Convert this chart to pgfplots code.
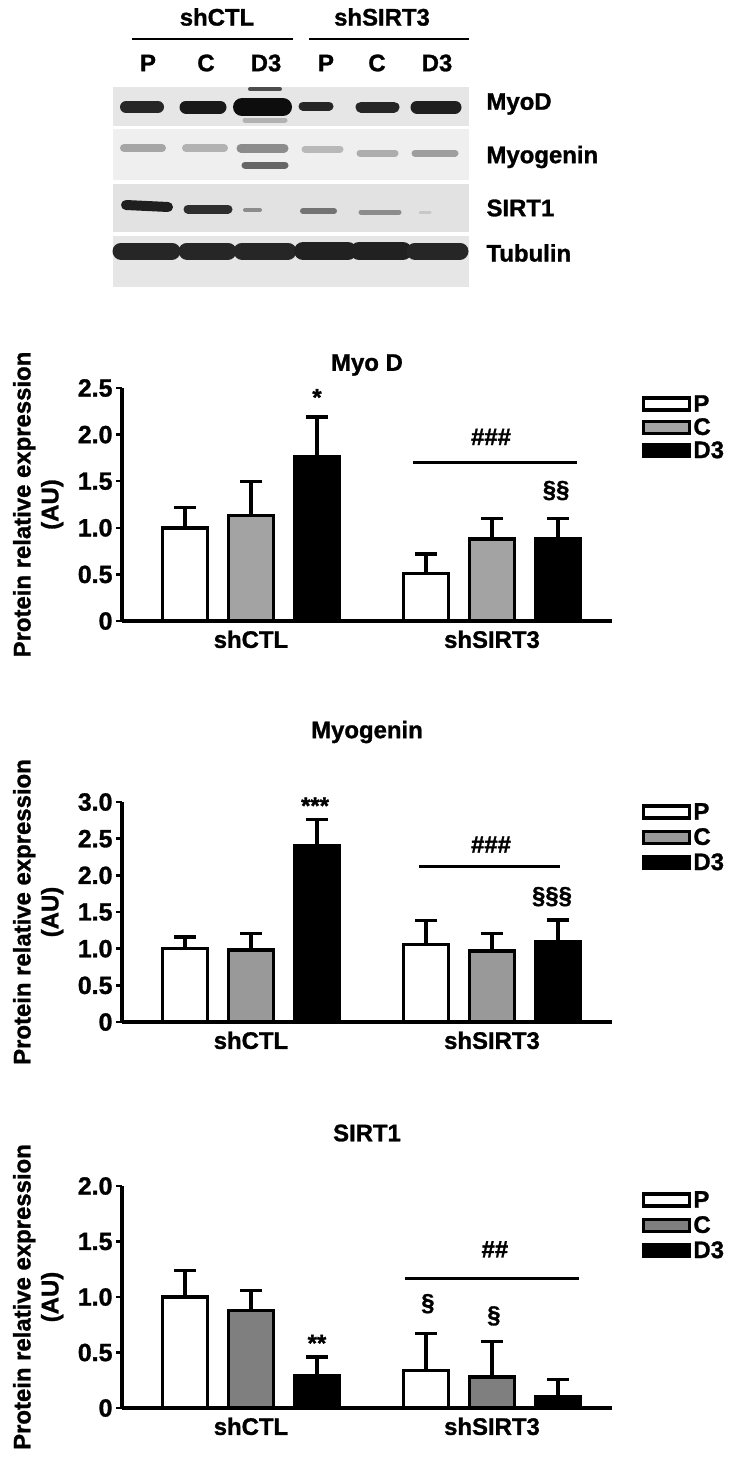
\documentclass[border=0pt]{standalone}
\usepackage{fontspec}
\setmainfont{Liberation Sans}[BoldFeatures={FakeBold=1.2}]
\usepackage{pgfplots}
\pgfplotsset{compat=1.18}
\newcommand\F{\fontsize{24}{28}\selectfont\bfseries}
\newcommand\T{\fontsize{25}{28}\selectfont\bfseries}
\definecolor{cA}{HTML}{A3A3A3}
\definecolor{cB}{HTML}{999999}
\definecolor{cC}{HTML}{7F7F7F}
\definecolor{bgA}{HTML}{E6E6E6}
\definecolor{bgB}{HTML}{EFEFEF}
\definecolor{bgC}{HTML}{E2E2E2}
\definecolor{bgD}{HTML}{E6E6E6}
\pgfplotsset{
  chart/.style={
    scale only axis, width=490bp, anchor=south west,
    axis x line=bottom, axis y line=left,
    axis line style={-, line width=3.2bp},
    xmin=0.465, xmax=2.498, ymin=0,
    xtick={1,2}, xticklabels={shCTL,shSIRT3},
    x tick style={draw=none},
    y tick style={line width=2.5bp, black},
    tick align=outside, major tick length=6bp,
    tick label style={font=\T},
    xticklabel style={font=\F},
    ylabel={Protein relative expression\\(AU)},
    ylabel style={font=\F, align=center, at={(axis description cs:-0.171,0.5)}, anchor=center},
    title style={font=\F, at={(axis description cs:0.5,1)}, anchor=center},
    clip=false,
    legend style={draw=none, fill=none, inner sep=0pt, font=\F, anchor=north west,
      nodes={inner sep=1bp}, column sep=1bp},
    legend cell align=left,
  },
  bar/.style={ybar, bar width=0.187, bar shift=0, draw=black, line width=3.5bp,
    error bars/y dir=plus, error bars/y explicit,
    error bars/error bar style={line width=3.2bp, black},
    error bars/error mark options={rotate=90, line width=3.2bp, mark size=11bp, black},
    legend image code/.code={\draw[##1, line width=3.5bp] (0bp,-6bp) rectangle (46bp,6bp);}},
}
\begin{document}
\begin{tikzpicture}
\useasboundingbox (0,0) rectangle (736bp,-1463bp);
% ---------------- western blot ----------------
\begin{axis}[at={(0bp,0bp)}, anchor=north west, scale only axis, width=736bp, height=300bp,
  xmin=0, xmax=736, ymin=0, ymax=300, y dir=reverse, hide axis, clip=false]
\fill[bgA] (axis cs:113,87) rectangle (axis cs:469,126);
\fill[bgB] (axis cs:113,129) rectangle (axis cs:469,180);
\fill[bgC] (axis cs:113,184) rectangle (axis cs:469,232);
\fill[bgD] (axis cs:113,236) rectangle (axis cs:469,287);
% MyoD bands
\addplot[no markers, line cap=round, line width=12bp, draw=black!85] coordinates {(126,107) (158,107)};
\addplot[no markers, line cap=round, line width=13bp, draw=black!90] coordinates {(186,107) (220,107)};
\addplot[no markers, line cap=round, line width=18bp, draw=black!95] coordinates {(242,107) (283,107)};
\addplot[no markers, line cap=round, line width=4bp, draw=black!70] coordinates {(250,89) (280,89)};
\addplot[no markers, line cap=round, line width=5bp, draw=black!30] coordinates {(245,120) (285,120)};
\addplot[no markers, line cap=round, line width=9bp, draw=black!85] coordinates {(303,106) (329,106)};
\addplot[no markers, line cap=round, line width=11bp, draw=black!85] coordinates {(361,107) (394,107)};
\addplot[no markers, line cap=round, line width=13bp, draw=black!88] coordinates {(417,107) (455,107)};
% Myogenin bands
\addplot[no markers, line cap=round, line width=8bp, draw=black!35] coordinates {(124,148) (162,148)};
\addplot[no markers, line cap=round, line width=8bp, draw=black!30] coordinates {(186,148) (224,148)};
\addplot[no markers, line cap=round, line width=9bp, draw=black!45] coordinates {(241,148) (284,148)};
\addplot[no markers, line cap=round, line width=7bp, draw=black!60] coordinates {(245,165) (285,165)};
\addplot[no markers, line cap=round, line width=7bp, draw=black!28] coordinates {(305,149) (340,149)};
\addplot[no markers, line cap=round, line width=7bp, draw=black!32] coordinates {(360,153) (395,153)};
\addplot[no markers, line cap=round, line width=7bp, draw=black!38] coordinates {(415,153) (455,153)};
% SIRT1 bands
\addplot[no markers, line cap=round, line width=10bp, draw=black!88] coordinates {(126,205) (168,207)};
\addplot[no markers, line cap=round, line width=9bp, draw=black!82] coordinates {(188,209) (228,209)};
\addplot[no markers, line cap=round, line width=4bp, draw=black!45] coordinates {(245,210) (260,210)};
\addplot[no markers, line cap=round, line width=6bp, draw=black!55] coordinates {(303,211) (334,211)};
\addplot[no markers, line cap=round, line width=5bp, draw=black!45] coordinates {(361,212) (399,212)};
\addplot[no markers, line cap=round, line width=3bp, draw=black!22] coordinates {(420,212) (430,212)};
% Tubulin bands
\addplot[no markers, line cap=round, line width=17bp, draw=black!85] coordinates {(121,251) (172,251)};
\addplot[no markers, line cap=round, line width=17bp, draw=black!85] coordinates {(187,251) (228,251)};
\addplot[no markers, line cap=round, line width=17bp, draw=black!85] coordinates {(242,251) (288,251)};
\addplot[no markers, line cap=round, line width=18bp, draw=black!87] coordinates {(303,251) (348,251)};
\addplot[no markers, line cap=round, line width=18bp, draw=black!87] coordinates {(359,251) (403,251)};
\addplot[no markers, line cap=round, line width=17bp, draw=black!85] coordinates {(415,251) (460,251)};
% labels
\node[font=\F] at (axis cs:217,17) {shCTL};
\node[font=\F] at (axis cs:382,17) {shSIRT3};
\draw[line width=1.5bp] (axis cs:132,39) -- (axis cs:293,39);
\draw[line width=1.5bp] (axis cs:309,39) -- (axis cs:469,39);
\node[font=\F] at (axis cs:148,63) {P};
\node[font=\F] at (axis cs:206,63) {C};
\node[font=\F] at (axis cs:266,63) {D3};
\node[font=\F] at (axis cs:326,63) {P};
\node[font=\F] at (axis cs:377,63) {C};
\node[font=\F] at (axis cs:437,63) {D3};
\node[font=\F, anchor=west] at (axis cs:483,104) {MyoD};
\node[font=\F, anchor=west] at (axis cs:483,157) {Myogenin};
\node[font=\F, anchor=west] at (axis cs:483,208) {SIRT1};
\node[font=\F, anchor=west] at (axis cs:483,253) {Tubulin};
\end{axis}
% ---------------- Myo D ----------------
\begin{axis}[chart, at={(122bp,-621bp)}, height=233bp, ymax=2.5,
  ytick={0,0.5,1,1.5,2,2.5}, yticklabels={0,0.5,1.0,1.5,2.0,2.5},
  title={Myo D}, title style={yshift=17bp},
  legend style={at={(axis description cs:1.0607,0.974)}, row sep=3bp}]
\addplot[bar, fill=white] coordinates {(0.726,1.00) +- (0,0.22) (1.726,0.51) +- (0,0.21)};
\addlegendentry{P}
\addplot[bar, fill=cA] coordinates {(1,1.13) +- (0,0.37) (2,0.88) +- (0,0.22)};
\addlegendentry{C}
\addplot[bar, fill=black] coordinates {(1.274,1.76) +- (0,0.43) (2.274,0.88) +- (0,0.22)};
\addlegendentry{D3}
\node[font=\F] at (axis cs:1.274,2.40) {*};
\node[font=\F] at (axis cs:1.996,1.975) {\#\#\#};
\draw[line width=3.2bp] (axis cs:1.672,1.70) -- (axis cs:2.353,1.70);
\node[font=\F] at (axis cs:2.266,1.40) {§§};
\end{axis}
% ---------------- Myogenin ----------------
\begin{axis}[chart, at={(122bp,-1022bp)}, height=220bp, ymax=3,
  ytick={0,0.5,1,1.5,2,2.5,3}, yticklabels={0,0.5,1.0,1.5,2.0,2.5,3.0},
  title={Myogenin}, title style={yshift=64bp},
  legend style={at={(axis description cs:1.0607,1.0)}, row sep=5bp}]
\addplot[bar, fill=white] coordinates {(0.726,1.00) +- (0,0.16) (1.726,1.06) +- (0,0.32)};
\addlegendentry{P}
\addplot[bar, fill=cB] coordinates {(1,0.98) +- (0,0.23) (2,0.97) +- (0,0.24)};
\addlegendentry{C}
\addplot[bar, fill=black] coordinates {(1.274,2.41) +- (0,0.35) (2.274,1.09) +- (0,0.30)};
\addlegendentry{D3}
\node[font=\F] at (axis cs:1.266,2.95) {***};
\node[font=\F] at (axis cs:1.996,2.42) {\#\#\#};
\draw[line width=3.2bp] (axis cs:1.697,2.12) -- (axis cs:2.282,2.12);
\node[font=\F] at (axis cs:2.249,1.71) {§§§};
\end{axis}
% ---------------- SIRT1 ----------------
\begin{axis}[chart, at={(122bp,-1408bp)}, height=222bp, ymax=2,
  ytick={0,0.5,1,1.5,2}, yticklabels={0,0.5,1.0,1.5,2.0},
  title={SIRT1}, title style={yshift=47bp},
  legend style={at={(axis description cs:1.0607,0.982)}, row sep=5bp}]
\addplot[bar, fill=white] coordinates {(0.726,1.00) +- (0,0.24) (1.726,0.34) +- (0,0.33)};
\addlegendentry{P}
\addplot[bar, fill=cC] coordinates {(1,0.88) +- (0,0.18) (2,0.28) +- (0,0.32)};
\addlegendentry{C}
\addplot[bar, fill=black] coordinates {(1.274,0.29) +- (0,0.17) (2.274,0.10) +- (0,0.16)};
\addlegendentry{D3}
\node[font=\F] at (axis cs:1.274,0.585) {**};
\node[font=\F] at (axis cs:2.012,1.43) {\#\#};
\draw[line width=3.2bp] (axis cs:1.639,1.17) -- (axis cs:2.361,1.17);
\node[font=\F] at (axis cs:1.734,0.94) {§};
\node[font=\F] at (axis cs:2.008,0.83) {§};
\end{axis}
\end{tikzpicture}
\end{document}
